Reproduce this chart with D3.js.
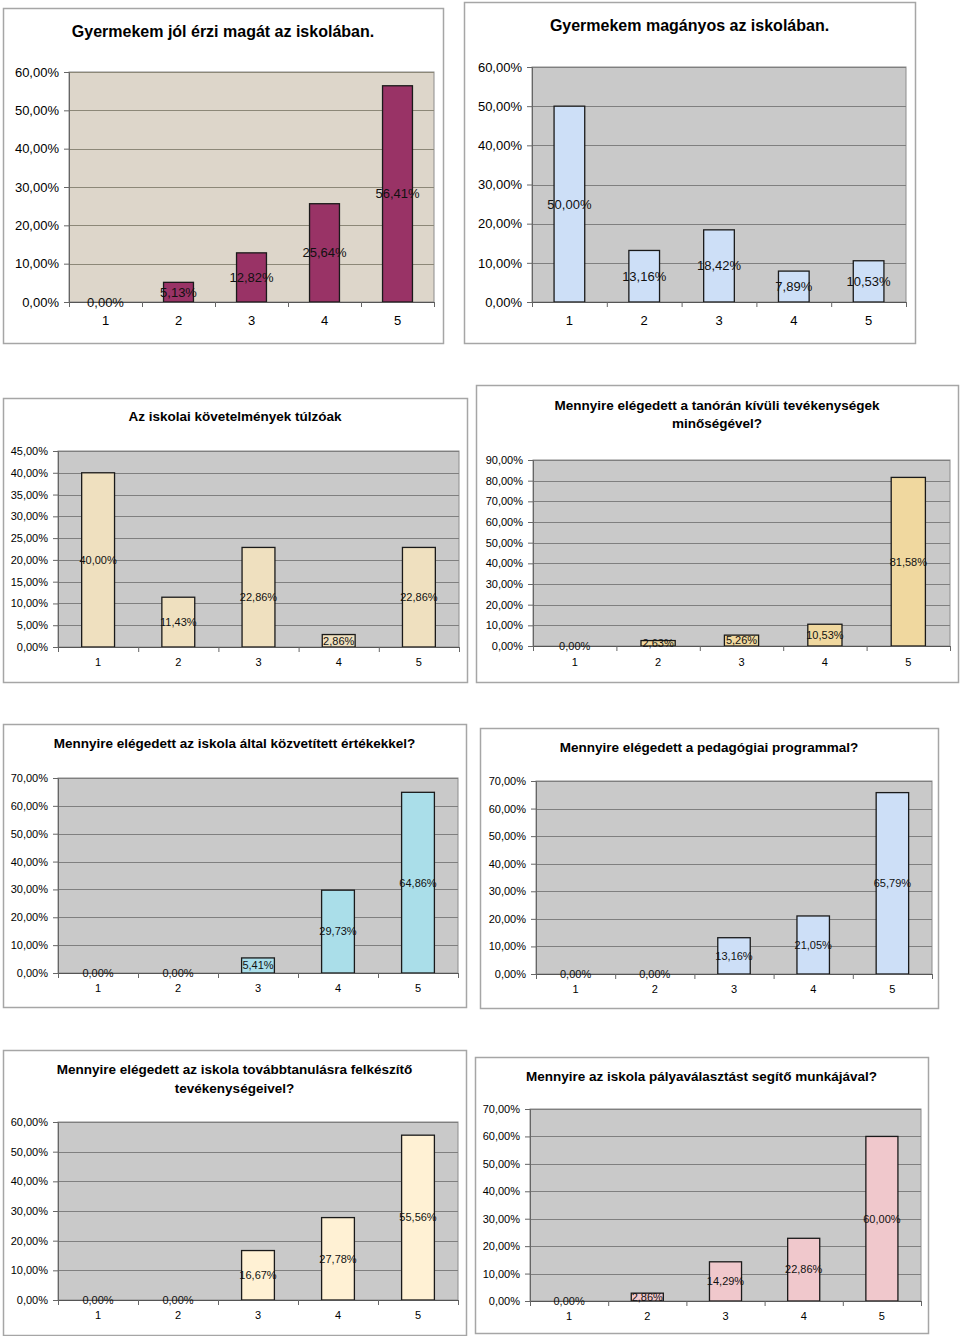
<!DOCTYPE html>
<html><head><meta charset="utf-8">
<script src="https://cdn.jsdelivr.net/npm/d3@7"></script>
<style>
html,body{margin:0;padding:0;background:#fff;}
svg{display:block;font-family:"Liberation Sans",Arial,sans-serif;}
</style></head>
<body>
<svg id="c" width="960" height="1336"></svg>
<script>
// ---------- DATA ----------
const categories = ["1", "2", "3", "4", "5"];
const valuesJol = [0.00, 5.13, 12.82, 25.64, 56.41];
const valuesMaganyos = [50.00, 13.16, 18.42, 7.89, 10.53];
const valuesKovetelmeny = [40.00, 11.43, 22.86, 2.86, 22.86];
const valuesTanoran = [0.00, 2.63, 5.26, 10.53, 81.58];
const valuesErtekek = [0.00, 0.00, 5.41, 29.73, 64.86];
const valuesPedagogiai = [0.00, 0.00, 13.16, 21.05, 65.79];
const valuesTovabb = [0.00, 0.00, 16.67, 27.78, 55.56];
const valuesPalya = [0.00, 2.86, 14.29, 22.86, 60.00];

const ticks60 = [0, 10, 20, 30, 40, 50, 60];
const ticks45 = [0, 5, 10, 15, 20, 25, 30, 35, 40, 45];
const ticks90 = [0, 10, 20, 30, 40, 50, 60, 70, 80, 90];
const ticks70 = [0, 10, 20, 30, 40, 50, 60, 70];

const titleJol = ["Gyermekem jól érzi magát az iskolában."];
const titleMaganyos = ["Gyermekem magányos az iskolában."];
const titleKovetelmeny = ["Az iskolai követelmények túlzóak"];
const titleTanoran = ["Mennyire elégedett a tanórán kívüli tevékenységek", "minőségével?"];
const titleErtekek = ["Mennyire elégedett az iskola által közvetített értékekkel?"];
const titlePedagogiai = ["Mennyire elégedett a pedagógiai programmal?"];
const titleTovabb = ["Mennyire elégedett az iskola továbbtanulásra felkészítő", "tevékenységeivel?"];
const titlePalya = ["Mennyire az iskola pályaválasztást segítő munkájával?"];

// ---------- LAYOUT ----------
const charts = [
  {title: titleJol, values: valuesJol, ticks: ticks60, box: [3, 8, 443, 343], plot: [69, 72, 434, 302], titleY: [37], tf: 16, fs: 13, bar: "#993366", bg: "#ddd6ca", grid: "#8c8878", xl: 19},
  {title: titleMaganyos, values: valuesMaganyos, ticks: ticks60, box: [464, 2, 915, 343], plot: [532, 67, 906, 302], titleY: [31], tf: 16, fs: 13, bar: "#cddff7", bg: "#c9c9c9", grid: "#7f7f7f", xl: 19},
  {title: titleKovetelmeny, values: valuesKovetelmeny, ticks: ticks45, box: [3, 398, 467, 682], plot: [58, 451, 459, 647], titleY: [421], tf: 13.5, fs: 11, bar: "#efe0bf", bg: "#c9c9c9", grid: "#7f7f7f", xl: 16},
  {title: titleTanoran, values: valuesTanoran, ticks: ticks90, box: [476, 385, 958, 682], plot: [533, 460, 950, 646], titleY: [410, 428], tf: 13.5, fs: 11, bar: "#f0d89f", bg: "#c9c9c9", grid: "#7f7f7f", xl: 17},
  {title: titleErtekek, values: valuesErtekek, ticks: ticks70, box: [3, 724, 466, 1007], plot: [58, 778, 458, 973], titleY: [748], tf: 13.5, fs: 11, bar: "#aadee9", bg: "#c9c9c9", grid: "#7f7f7f", xl: 16},
  {title: titlePedagogiai, values: valuesPedagogiai, ticks: ticks70, box: [480, 728, 938, 1008], plot: [536, 781, 932, 974], titleY: [752], tf: 13.5, fs: 11, bar: "#cddff7", bg: "#c9c9c9", grid: "#7f7f7f", xl: 16},
  {title: titleTovabb, values: valuesTovabb, ticks: ticks60, box: [3, 1050, 466, 1335], plot: [58, 1122, 458, 1300], titleY: [1074, 1093], tf: 13.5, fs: 11, bar: "#fff1d4", bg: "#c9c9c9", grid: "#7f7f7f", xl: 16},
  {title: titlePalya, values: valuesPalya, ticks: ticks70, box: [475, 1057, 928, 1333], plot: [530, 1109, 921, 1301], titleY: [1081], tf: 13.5, fs: 11, bar: "#f0c8cc", bg: "#c9c9c9", grid: "#7f7f7f", xl: 16}
];

const fmt = v => d3.format(".2f")(v).replace(".", ",") + "%";
const svg = d3.select("#c");

charts.forEach((c, i) => {
  const g = svg.append("g");
  const [bx0, by0, bx1, by1] = c.box;
  const [px0, py0, px1, py1] = c.plot;

  g.append("rect").attr("x", bx0 + 0.5).attr("y", by0 + 0.5)
    .attr("width", bx1 - bx0).attr("height", by1 - by0)
    .attr("fill", "#fff").attr("stroke", "#a6a6a6").attr("stroke-width", 1.5);

  c.title.forEach((t, k) => {
    g.append("text").attr("x", (bx0 + bx1) / 2).attr("y", c.titleY[k])
      .attr("text-anchor", "middle").attr("font-weight", "bold")
      .attr("font-size", c.tf).attr("fill", "#000").text(t);
  });

  const y = d3.scaleLinear().domain([0, d3.max(c.ticks)]).range([py1, py0]);
  const xb = d3.scaleBand().domain(categories).range([px0, px1]).paddingInner(0.59).paddingOuter(0.295);
  const xe = d3.scaleLinear().domain([0, categories.length]).range([px0, px1]);

  g.append("rect").attr("x", px0).attr("y", py0).attr("width", px1 - px0).attr("height", py1 - py0)
    .attr("fill", c.bg).attr("stroke", "#8c8c8c").attr("stroke-width", 1);

  g.append("g").selectAll("line").data(c.ticks.filter(t => t > 0)).join("line")
    .attr("x1", px0).attr("x2", px1).attr("y1", d => Math.round(y(d)) + 0.5).attr("y2", d => Math.round(y(d)) + 0.5)
    .attr("stroke", c.grid).attr("stroke-width", 1.2);

  // y axis
  const ya = g.append("g").attr("transform", `translate(${px0},0)`)
    .call(d3.axisLeft(y).tickValues(c.ticks).tickFormat(fmt).tickSize(5).tickPadding(5));
  ya.select(".domain").attr("stroke", "#666");
  ya.selectAll(".tick line").attr("stroke", "#666");
  ya.selectAll("text").attr("font-size", c.fs).attr("font-family", "Liberation Sans, Arial, sans-serif").attr("fill", "#000");

  // bars
  g.append("g").selectAll("rect").data(c.values).join("rect")
    .attr("x", (d, k) => xb(categories[k])).attr("width", xb.bandwidth())
    .attr("y", d => y(d)).attr("height", d => y(0) - y(d))
    .attr("fill", c.bar).attr("stroke", "#1a1a1a").attr("stroke-width", 1.3);

  // x axis with boundary ticks
  const xa = g.append("g").attr("transform", `translate(0,${py1})`)
    .call(d3.axisBottom(xe).tickValues(d3.range(categories.length + 1)).tickFormat("").tickSize(5));
  xa.select(".domain").attr("stroke", "#555");
  xa.selectAll(".tick line").attr("stroke", "#666");

  const xl = g.append("g").attr("transform", `translate(0,${py1})`)
    .call(d3.axisBottom(xb).tickSize(0).tickPadding(c.xl - 5));
  xl.select(".domain").remove();
  xl.selectAll("text").attr("font-size", c.fs).attr("font-family", "Liberation Sans, Arial, sans-serif").attr("fill", "#000");

  // data labels at bar centers
  g.append("g").selectAll("text").data(c.values).join("text")
    .attr("x", (d, k) => xb(categories[k]) + xb.bandwidth() / 2)
    .attr("y", d => (y(d) + y(0)) / 2)
    .attr("dy", "0.35em").attr("text-anchor", "middle")
    .attr("font-size", c.fs).attr("fill", "#111").text(d => fmt(d));
});
</script>
</body></html>
